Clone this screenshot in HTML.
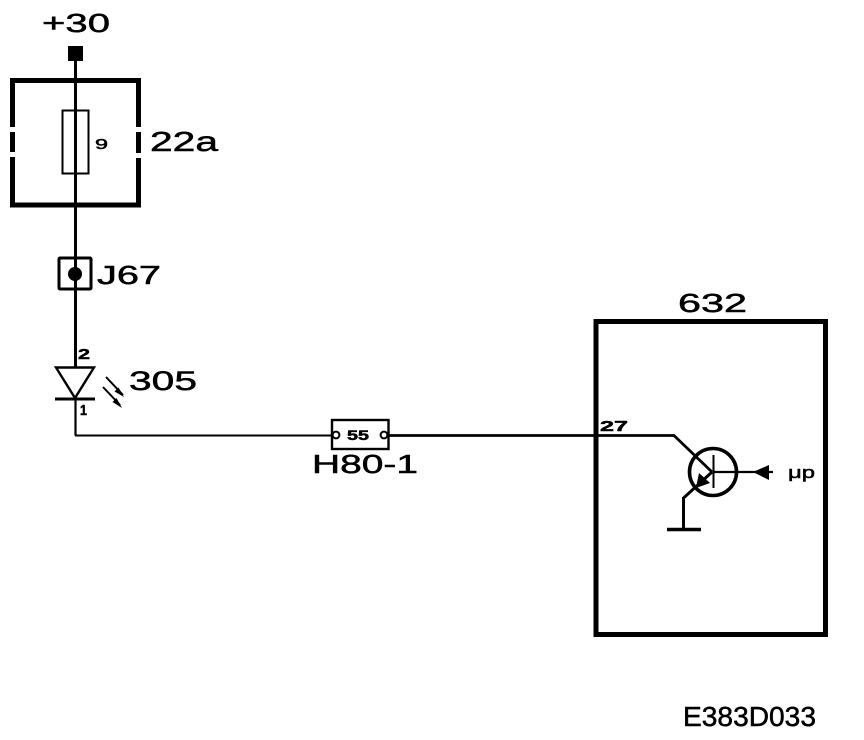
<!DOCTYPE html>
<html>
<head>
<meta charset="utf-8">
<style>
html,body{margin:0;padding:0;background:#fff;width:864px;height:740px;overflow:hidden}
svg{display:block}
text{font-family:"Liberation Sans",sans-serif;fill:#000;stroke:#000;stroke-width:.5}
</style>
</head>
<body>
<svg width="864" height="740" viewBox="0 0 864 740" xmlns="http://www.w3.org/2000/svg">
<rect width="864" height="740" fill="#fff"/>
<g fill="none" stroke="#000">
  <!-- 22a box -->
  <path d="M12.500 127V80.500H138.500V127M12.500 132V152M12.500 157V205H138.500V158M138.500 132V153" stroke-width="5"/>
  <!-- fuse -->
  <rect x="62.500" y="110.500" width="26" height="63" stroke-width="2"/>
  <!-- main vertical -->
  <path d="M75.500 50V367" stroke-width="3"/>
  <!-- J67 -->
  <rect x="59" y="258" width="32" height="31" rx="1" stroke-width="3"/>
  <!-- diode -->
  <path d="M56 367.500H94L75 398Z" stroke-width="2.400"/>
  <path d="M55 399H95" stroke-width="3"/>
  <path d="M75.500 398V435.500" stroke-width="2.200"/>
  <path d="M75 435.500H332" stroke-width="2"/>
  <!-- light arrows -->
  <path d="M106 377L123 395M103 387L120 405" stroke-width="2"/>
  <!-- connector -->
  <rect x="332" y="420" width="56.500" height="29" stroke-width="2.400"/>
  <circle cx="336" cy="435" r="3.400" fill="#fff" stroke-width="2"/>
  <circle cx="384" cy="435" r="3.400" fill="#fff" stroke-width="2"/>
  <path d="M389 435.500H674L712 472" stroke-width="2.800"/>
  <!-- box 632 -->
  <rect x="596" y="321.500" width="229.500" height="313" stroke-width="5"/>
  <!-- transistor -->
  <circle cx="713" cy="472" r="23.500" stroke-width="3.600"/>
  <path d="M713.500 455V488" stroke-width="2"/>
  <path d="M713 472H773" stroke-width="2.200"/>
  <path d="M712 472L683.500 498V528" stroke-width="3"/>
  <path d="M667 529.500H701" stroke-width="3.400"/>
</g>
<g fill="#000" stroke="none">
  <rect x="68" y="46" width="15" height="15"/>
  <circle cx="75" cy="274" r="7"/>
  <path d="M124 397L114.500 391.500L118.500 387.500Z"/>
  <path d="M122 408L112.500 402L116.500 398Z"/>
  <path d="M696 488L699 473L710 483Z"/>
  <path d="M753 472L769 465V480Z"/>
</g>
<g>
  <text x="42" y="32" font-size="26" textLength="68" lengthAdjust="spacingAndGlyphs">+30</text>
  <text x="150" y="151" font-size="28" textLength="68" lengthAdjust="spacingAndGlyphs">22a</text>
  <text x="97" y="284" font-size="26" textLength="64" lengthAdjust="spacingAndGlyphs">J67</text>
  <text x="129" y="390" font-size="27" textLength="68" lengthAdjust="spacingAndGlyphs">305</text>
  <text x="312" y="473" font-size="26" textLength="106" lengthAdjust="spacingAndGlyphs">H80-1</text>
  <text x="678" y="312" font-size="26" textLength="69" lengthAdjust="spacingAndGlyphs">632</text>
  <text x="683" y="726" font-size="28" textLength="133" lengthAdjust="spacingAndGlyphs">E383D033</text>
  <text x="95" y="149" font-size="15" textLength="13" lengthAdjust="spacingAndGlyphs">9</text>
  <text x="347" y="440" font-size="14" font-weight="bold" textLength="22" lengthAdjust="spacingAndGlyphs">55</text>
  <text x="78" y="359" font-size="15" font-weight="bold" textLength="12" lengthAdjust="spacingAndGlyphs">2</text>
  <text x="80" y="415" font-size="15" font-weight="bold" textLength="7" lengthAdjust="spacingAndGlyphs">1</text>
  <text x="600" y="431" font-size="15" font-weight="bold" textLength="28" lengthAdjust="spacingAndGlyphs">27</text>
  <text x="788" y="478" font-size="17" textLength="27" lengthAdjust="spacingAndGlyphs">μp</text>
</g>
</svg>
</body>
</html>
